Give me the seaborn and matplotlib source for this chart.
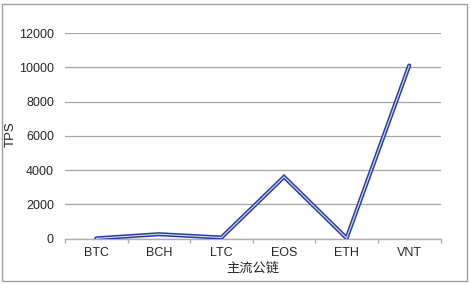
import numpy as np
import pandas as pd
import matplotlib
matplotlib.use("Agg")
import matplotlib.pyplot as plt
import seaborn as sns

# data
chains = ["BTC", "BCH", "LTC", "EOS", "ETH", "VNT"]
tps = [7, 250, 56, 3600, 20, 10100]
y_ticks = [0, 2000, 4000, 6000, 8000, 10000, 12000]

df = pd.DataFrame({"chain": chains, "tps": tps})
df["pos"] = np.arange(len(chains))

sns.set_theme(style="white")
plt.rcParams["font.family"] = ["Liberation Sans", "Noto Sans CJK SC", "DejaVu Sans"]

fig = plt.figure(figsize=(4.70, 2.84), dpi=100)
ax = fig.add_axes([65 / 470, 1 - 238.5 / 284, (440.5 - 65) / 470, (238.5 - 33) / 284])

# double line look: dark outline with a light core
sns.lineplot(data=df, x="pos", y="tps", ax=ax, color="#2b3f9e", lw=3.0,
             solid_joinstyle="miter", zorder=3)
sns.lineplot(data=df, x="pos", y="tps", ax=ax, color="#d6dcf2", lw=0.8,
             solid_joinstyle="miter", zorder=4)

ax.set_xlim(-0.5, len(chains) - 0.5)
ax.set_ylim(0, 12000)
ax.set_yticks(y_ticks)
ax.set_yticklabels([str(v) for v in y_ticks])
ax.set_xticks(df["pos"])
ax.set_xticklabels(chains)
ax.set_xticks(np.arange(-0.5, len(chains)), minor=True)

ax.yaxis.grid(True, color="#a6a6a6", lw=0.9)
ax.set_axisbelow(True)
for side in ["top", "right", "left"]:
    ax.spines[side].set_visible(False)
ax.spines["bottom"].set_color("#b0b0b0")
ax.spines["bottom"].set_linewidth(1.0)

ax.tick_params(axis="x", which="major", length=0, pad=6, labelsize=9, colors="#262626")
ax.tick_params(axis="x", which="minor", length=3, color="#b0b0b0", width=1.0, bottom=True)
ax.tick_params(axis="y", length=0, pad=8, labelsize=9, colors="#262626")

ax.set_xlabel("主流公链", fontsize=9.5, color="#262626", labelpad=2,
              family=["Noto Sans CJK SC", "DejaVu Sans"])
ax.set_ylabel("TPS", fontsize=9.5, color="#262626")
ax.yaxis.set_label_coords(-0.128, 0.51)

# outer chart border
fig.patches.append(plt.Rectangle((2 / 470, 3 / 284), 465 / 470, 277 / 284,
                                 transform=fig.transFigure, fill=False,
                                 edgecolor="#a0a0a0", lw=1.0))

fig.savefig("out.png", dpi=100)
